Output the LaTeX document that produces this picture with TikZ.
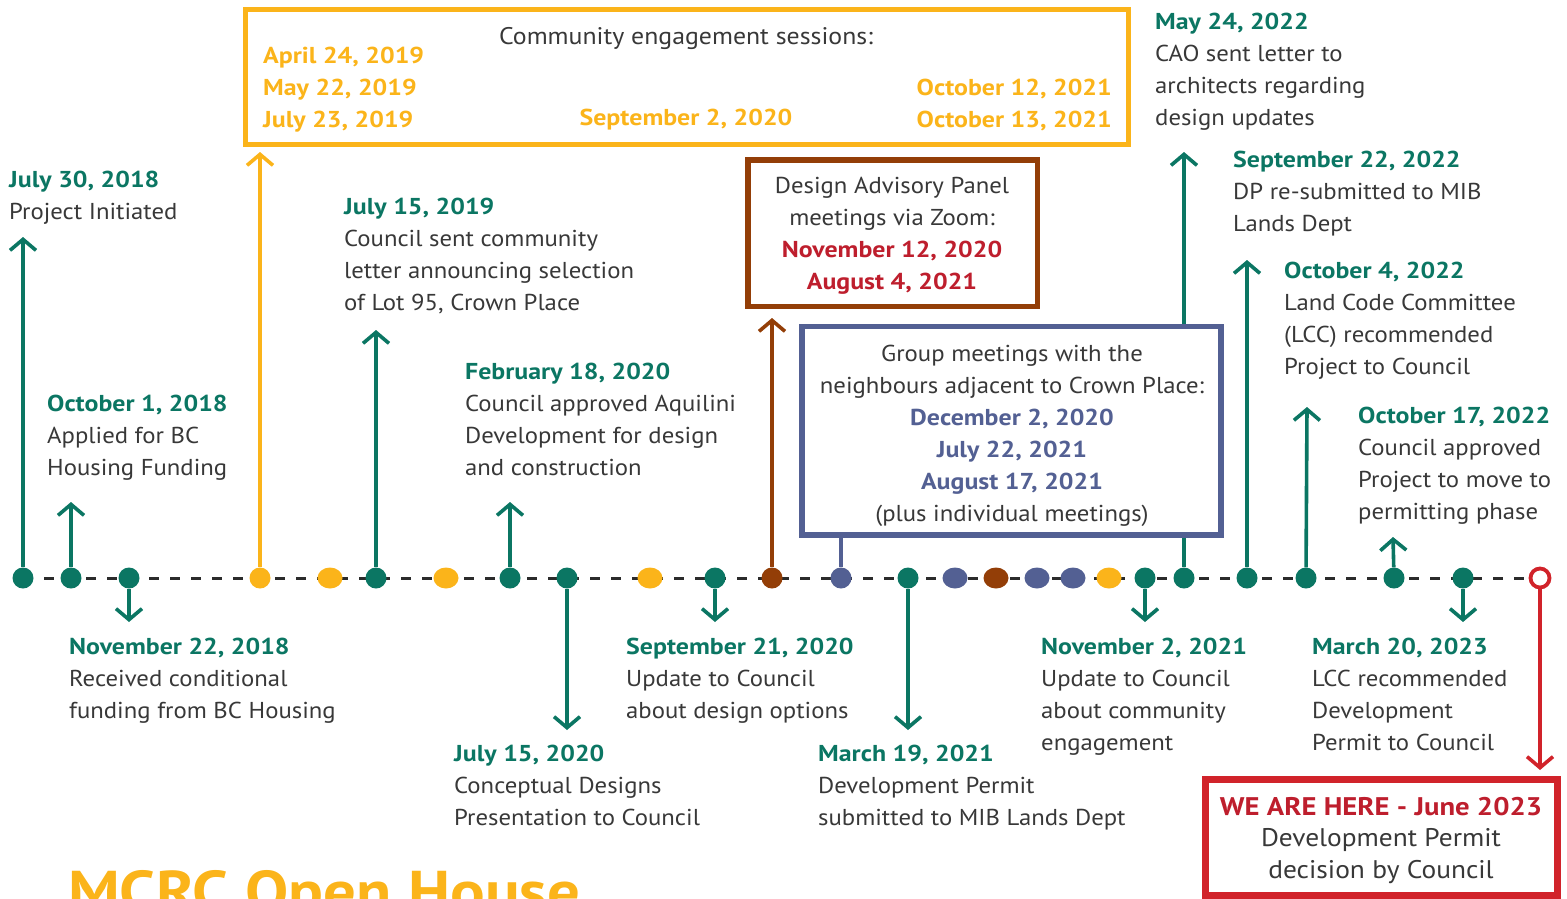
\documentclass[tikz,border=0pt]{standalone}
\usepackage{fontspec}
\setmainfont{PT Sans}[UprightFeatures={FakeStretch=1.075}, BoldFeatures={FakeStretch=1.125}]
\usetikzlibrary{arrows.meta,shapes.geometric}
\definecolor{tgreen}{HTML}{0B7663}
\definecolor{tyellow}{HTML}{FBB41A}
\definecolor{tbrown}{HTML}{933E07}
\definecolor{tblue}{HTML}{536093}
\definecolor{tred}{HTML}{D1232A}
\definecolor{dred}{HTML}{BE1E2D}
\definecolor{txt}{HTML}{383838}
\definecolor{dashcol}{HTML}{2B2B2B}
\newcommand\gd[1]{\textcolor{tgreen}{\bfseries #1}}
\newcommand\yd[1]{\textcolor{tyellow}{\bfseries #1}}
\newcommand\rd[1]{\textcolor{dred}{\bfseries #1}}
\newcommand\bd[1]{\textcolor{tblue}{\bfseries #1}}
\tikzset{
  dotn/.style={circle, fill=#1, minimum size=21pt, inner sep=0pt},
  edot/.style={ellipse, fill=#1, minimum width=25pt, minimum height=21pt, inner sep=0pt},
  stem/.style={line width=3.6pt, draw=#1},
  arr/.style={-{Straight Barb[length=11pt,width=26pt]}},
  lab/.style={anchor=base west, align=left, inner sep=0pt, text=txt, font=\fontsize{23}{32}\selectfont},
  labc/.style={anchor=base, align=center, inner sep=0pt, text=txt, font=\fontsize{23}{32}\selectfont},
  boxy/.style={draw=#1, fill=white, line width=5pt},
}
\begin{document}
\begin{tikzpicture}[x=1pt,y=-1pt]
\useasboundingbox (0,0) rectangle (1567,898);
\clip (0,0) rectangle (1567,898);
% timeline
\coordinate (ls) at (23,578);
\coordinate (le) at (1530,578);
\draw[draw=dashcol, line width=3pt, dash pattern=on 10pt off 11pt] (ls) -- (le);
% dots
\node[dotn=tgreen] (d1) at (23,578) {};
\node[dotn=tgreen] (d2) at (71,578) {};
\node[dotn=tgreen] (d3) at (129,578) {};
\node[dotn=tyellow] (d4) at (260,578) {};
\node[edot=tyellow] (d5) at (330,578) {};
\node[dotn=tgreen] (d6) at (376,578) {};
\node[edot=tyellow] (d7) at (446,578) {};
\node[dotn=tgreen] (d8) at (510,578) {};
\node[dotn=tgreen] (d9) at (567,578) {};
\node[edot=tyellow] (d10) at (650,578) {};
\node[dotn=tgreen] (d11) at (715,578) {};
\node[dotn=tbrown] (d12) at (772,578) {};
\node[dotn=tblue] (d13) at (841,578) {};
\node[dotn=tgreen] (d14) at (908,578) {};
\node[edot=tblue] (d15) at (955,578) {};
\node[edot=tbrown] (d16) at (996,578) {};
\node[edot=tblue] (d17) at (1037,578) {};
\node[edot=tblue] (d18) at (1073,578) {};
\node[edot=tyellow] (d19) at (1109,578) {};
\node[dotn=tgreen] (d20) at (1145,578) {};
\node[dotn=tgreen] (d21) at (1184,578) {};
\node[dotn=tgreen] (d22) at (1247,578) {};
\node[dotn=tgreen] (d23) at (1306,578) {};
\node[dotn=tgreen] (d24) at (1394,578) {};
\node[dotn=tgreen] (d25) at (1463,578) {};
\node[circle, draw=tred, fill=white, line width=3.8pt, minimum size=19pt, inner sep=0pt] (d26) at (1540,578) {};
% arrow tips
\coordinate (t1) at (23,237);
\coordinate (t2) at (71,502);
\coordinate (t3) at (129,622);
\coordinate (t4) at (260,152);
\coordinate (t6) at (376,330);
\coordinate (t8) at (510,502);
\coordinate (t9) at (567,730);
\coordinate (t11) at (715,622);
\coordinate (t12) at (772,318);
\coordinate (t13) at (841,535);
\coordinate (t14) at (908,730);
\coordinate (t20) at (1145,622);
\coordinate (t21) at (1184,152);
\coordinate (t22) at (1247,260);
\coordinate (t23) at (1307,407);
\coordinate (t24) at (1393,537);
\coordinate (t25) at (1463,622);
\coordinate (t26) at (1540,770);
\draw[stem=tgreen, arr] (d1) -- (t1);
\draw[stem=tgreen, arr] (d2) -- (t2);
\draw[stem=tgreen, arr] (d3) -- (t3);
\draw[stem=tyellow, arr] (d4) -- (t4);
\draw[stem=tgreen, arr] (d6) -- (t6);
\draw[stem=tgreen, arr] (d8) -- (t8);
\draw[stem=tgreen, arr] (d9) -- (t9);
\draw[stem=tgreen, arr] (d11) -- (t11);
\draw[stem=tbrown, arr] (d12) -- (t12);
\draw[stem=tblue] (d13) -- (t13);
\draw[stem=tgreen, arr] (d14) -- (t14);
\draw[stem=tgreen, arr] (d20) -- (t20);
\draw[stem=tgreen, arr] (d21) -- (t21);
\draw[stem=tgreen, arr] (d22) -- (t22);
\draw[stem=tgreen, arr] (d23) -- (t23);
\draw[stem=tgreen, arr] (d24) -- (t24);
\draw[stem=tgreen, arr] (d25) -- (t25);
\draw[stem=tred, arr] (d26) -- (t26);
% boxes
\draw[boxy=tyellow] (245,9) rectangle (1128,144);
\draw[boxy=tbrown, line width=5.5pt] (748,160) rectangle (1037.5,306.5);
\draw[boxy=tblue, line width=5.5pt] (802,326.5) rectangle (1221,535);
\draw[boxy=tred, line width=7pt] (1205.5,779) rectangle (1557,895);
% community box text
\node[labc, font=\fontsize{24}{32}\selectfont] (ce) at (686,44) {Community engagement sessions:};
\node[lab] (ce1) at (263,127) {\yd{April 24, 2019}\\\yd{May 22, 2019}\\\yd{July 23, 2019}};
\node[labc] (ce2) at (686,125) {\yd{September 2, 2020}};
\node[anchor=base east, align=right, inner sep=0pt, font=\fontsize{23}{32}\selectfont] (ce3) at (1112,127) {\yd{October 12, 2021}\\\yd{October 13, 2021}};
% DAP box text
\node[labc] (dap) at (892,289) {Design Advisory Panel\\meetings via Zoom:\\\rd{November 12, 2020}\\\rd{August 4, 2021}};
% group box text
\node[labc] (grp) at (1012,521) {Group meetings with the\\neighbours adjacent to Crown Place:\\\bd{December 2, 2020}\\\bd{July 22, 2021}\\\bd{August 17, 2021}\\(plus individual meetings)};
% here box text
\node[labc, font=\fontsize{25.5}{31.5}\selectfont] (here) at (1381,878) {\textcolor{dred}{\bfseries WE ARE HERE - June 2023}\\Development Permit\\decision by Council};
% labels
\node[lab] (l1) at (9,219) {\gd{July 30, 2018}\\Project Initiated};
\node[lab] (l2) at (47,475) {\gd{October 1, 2018}\\Applied for BC\\Housing Funding};
\node[lab] (l3) at (69,718) {\gd{November 22, 2018}\\Received conditional\\funding from BC Housing};
\node[lab] (l6) at (344,310) {\gd{July 15, 2019}\\Council sent community\\letter announcing selection\\of Lot 95, Crown Place};
\node[lab] (l8) at (465,475) {\gd{February 18, 2020}\\Council approved Aquilini\\Development for design\\and construction};
\node[lab] (l9) at (454,825) {\gd{July 15, 2020}\\Conceptual Designs\\Presentation to Council};
\node[lab] (l11) at (626,718) {\gd{September 21, 2020}\\Update to Council\\about design options};
\node[lab] (l14) at (818,825) {\gd{March 19, 2021}\\Development Permit\\submitted to MIB Lands Dept};
\node[lab] (l20) at (1041,750) {\gd{November 2, 2021}\\Update to Council\\about community\\engagement};
\node[lab] (l21) at (1155,125) {\gd{May 24, 2022}\\CAO sent letter to\\architects regarding\\design updates};
\node[lab] (l22) at (1233,231) {\gd{September 22, 2022}\\DP re-submitted to MIB\\Lands Dept};
\node[lab] (l23) at (1284,374) {\gd{October 4, 2022}\\Land Code Committee\\(LCC) recommended\\Project to Council};
\node[lab] (l24) at (1358,519) {\gd{October 17, 2022}\\Council approved\\Project to move to\\permitting phase};
\node[lab] (l25) at (1312,750) {\gd{March 20, 2023}\\LCC recommended\\Development\\Permit to Council};
% title
\node[anchor=base west, inner sep=0pt, text=tyellow, font=\fontsize{57.5}{60}\selectfont\bfseries] (title) at (68,911) {MCRC Open House};
\end{tikzpicture}
\end{document}
